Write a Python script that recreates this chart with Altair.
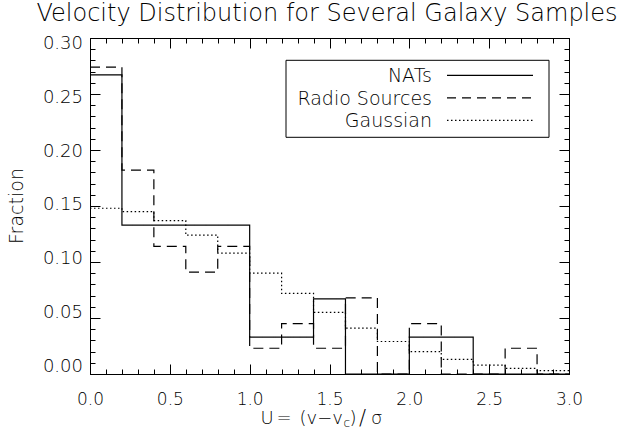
import altair as alt
import pandas as pd
import numpy as np

# ---- data ----
bin_edges = [0.0, 0.2, 0.4, 0.6, 0.8, 1.0, 1.2, 1.4, 1.6, 1.8, 2.0, 2.2, 2.4, 2.6, 2.8, 3.0]
series_names = ["NATs", "Radio Sources", "Gaussian"]
nats = [0.267, 0.133, 0.133, 0.133, 0.133, 0.033, 0.033, 0.067, 0.0, 0.0, 0.033, 0.033, 0.0, 0.0, 0.0]
radio = [0.274, 0.182, 0.114, 0.091, 0.114, 0.023, 0.045, 0.023, 0.068, 0.0, 0.045, 0.0, 0.0, 0.023, 0.0]
gauss = [0.148, 0.145, 0.137, 0.124, 0.108, 0.090, 0.072, 0.055, 0.041, 0.029, 0.020, 0.013, 0.008, 0.005, 0.003]
x_tick_labels = [0.0, 0.5, 1.0, 1.5, 2.0, 2.5, 3.0]
y_tick_labels = [0.00, 0.05, 0.10, 0.15, 0.20, 0.25, 0.30]
title_text = "Velocity Distribution for Several Galaxy Samples"

rows = []
for name, vals in zip(series_names, [nats, radio, gauss]):
    for i, v in enumerate(vals):
        rows.append({"series": name, "u": bin_edges[i], "f": v})
    rows.append({"series": name, "u": bin_edges[-1], "f": vals[-1]})
df = pd.DataFrame(rows)
ylab_df = pd.DataFrame({"v": y_tick_labels, "lab": [f"{v:.2f}" for v in y_tick_labels]})

x_minor = [round(v, 2) for v in np.arange(0, 3.0001, 0.1)]
y_minor = [round(v, 3) for v in np.arange(0, 0.30001, 0.01)]

FONT = "DejaVu Sans"
FW = 200
W, H = 479, 336
LEFT, TOP = 90, 38

xscale = alt.Scale(domain=[0, 3], nice=False, zero=False)
yscale = alt.Scale(domain=[0, 0.3], nice=False, zero=False)
# IDL places its y tick labels on a slightly compressed spacing
ylab_scale = alt.Scale(domain=[-0.0067, 0.3056], nice=False, zero=False)

common_axis = dict(domain=False, grid=False, tickColor="black", tickWidth=1,
                   labelColor="black", labelFont=FONT, labelFontWeight=FW,
                   labelFontSize=17, labelOverlap=False, labelFlush=False)

dash_scale = alt.Scale(domain=series_names, range=[[1, 0], [10, 6], [1.5, 2.5]])

def lines(xaxis, yaxis, opacity):
    return alt.Chart(df).mark_line(interpolate="step-after", color="black",
                                   strokeWidth=1.2, strokeOpacity=opacity).encode(
        x=alt.X("u:Q", scale=xscale, axis=xaxis),
        y=alt.Y("f:Q", scale=yscale, axis=yaxis),
        strokeDash=alt.StrokeDash("series:N", scale=dash_scale, legend=None),
        detail="series:N",
    )

main = lines(
    alt.Axis(orient="bottom", values=x_tick_labels, format=".1f", title=None,
             tickSize=10, offset=-10, labelPadding=17, **common_axis),
    alt.Axis(orient="left", values=y_tick_labels, labels=False, title="Fraction",
             tickSize=10, offset=-10, titleFont=FONT, titleFontWeight=FW, titleFontSize=19,
             titleColor="black", titleX=-78, titleY=H / 2 - 0.5, titleAngle=270,
             titleAlign="center", titleBaseline="alphabetic", **common_axis),
    1,
)
minor_bl = lines(
    alt.Axis(orient="bottom", values=x_minor, labels=False, title=None,
             tickSize=5, offset=-5, **common_axis),
    alt.Axis(orient="left", values=y_minor, labels=False, title=None,
             tickSize=5, offset=-5, **common_axis),
    0,
)
major_tr = lines(
    alt.Axis(orient="top", values=x_tick_labels, labels=False, title=None,
             tickSize=10, offset=-10, **common_axis),
    alt.Axis(orient="right", values=y_tick_labels, labels=False, title=None,
             tickSize=10, offset=-10, **common_axis),
    0,
)
minor_tr = lines(
    alt.Axis(orient="top", values=x_minor, labels=False, title=None,
             tickSize=5, offset=-5, **common_axis),
    alt.Axis(orient="right", values=y_minor, labels=False, title=None,
             tickSize=5, offset=-5, **common_axis),
    0,
)

ylabels = alt.Chart(ylab_df).mark_text(font=FONT, fontWeight=FW, fontSize=18, align="right",
                                       baseline="middle", color="black").encode(
    x=alt.value(-7),
    y=alt.Y("v:Q", scale=ylab_scale, axis=None),
    text="lab:N",
)

one = pd.DataFrame({"k": [0]})

def txt(s, x, y, size=18, align="left", baseline="alphabetic"):
    return alt.Chart(one).mark_text(text=s, font=FONT, fontWeight=FW, fontSize=size,
                                    align=align, baseline=baseline, color="black").encode(
        x=alt.value(x), y=alt.value(y))

title = txt(title_text, 237, -17, size=24, align="center")

# x-axis title  U = (v - v_c)/sigma   (absolute x minus LEFT)
xt_base = 385.5
xtitle = [
    txt("U", 170.5, xt_base),
    txt("=", 186.5, xt_base),
    txt("(v\u2212v", 253, xt_base, align="right"),
    txt("c", 253.5, xt_base + 3, size=12),
    txt(")", 259.5, xt_base),
    txt("/", 272.5, xt_base + 1, size=21, align="center"),
    txt("\u03c3", 281, xt_base),
]

# legend (drawn box)
leg_box = alt.Chart(one).mark_rect(fill="white", stroke="black", strokeWidth=1).encode(
    x=alt.value(196), x2=alt.value(459), y=alt.value(22.3), y2=alt.value(99.3))
leg_rows_y = [37.3, 59.8, 82.3]
leg_dash = [[1, 0], [9, 6], [1.5, 2.5]]
leg_layers = [leg_box]
for name, yy, dsh in zip(series_names, leg_rows_y, leg_dash):
    leg_layers.append(txt(name, 342, yy + 1, size=19, align="right", baseline="middle"))
    leg_layers.append(alt.Chart(one).mark_rule(color="black", strokeWidth=1.2, strokeDash=dsh).encode(
        x=alt.value(357), x2=alt.value(443), y=alt.value(yy)))

chart = alt.layer(main, minor_bl, major_tr, minor_tr, ylabels, title, *xtitle, *leg_layers).resolve_axis(
    x="independent", y="independent"
).resolve_scale(y="independent").properties(
    width=W, height=H,
    autosize=alt.AutoSizeParams(type="none"),
    padding={"left": LEFT, "top": TOP, "right": 626 - LEFT - W, "bottom": 432 - TOP - H},
    background="white",
).configure_view(stroke="black", strokeWidth=1)

chart.save("out.html", embed_options={"renderer": "svg", "actions": False})
